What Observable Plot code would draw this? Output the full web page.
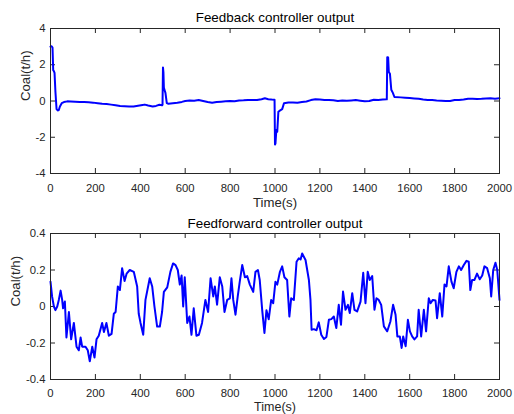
<!DOCTYPE html>
<html>
<head>
<meta charset="utf-8">
<script src="https://cdn.jsdelivr.net/npm/d3@7"></script>
<script src="https://cdn.jsdelivr.net/npm/@observablehq/plot@0.6"></script>
<style>
  body { margin: 0; background: #fff; }
  #chart svg { display: block; }
</style>
</head>
<body>
<div id="chart"></div>
<script>
// ---------- data ----------
const fbTitle = "Feedback controller output";
const ffTitle = "Feedforward controller output";
const xLabel = "Time(s)";
const yLabel = "Coal(t/h)";

const xTicks = [0, 200, 400, 600, 800, 1000, 1200, 1400, 1600, 1800, 2000];
const fbYTicks = [-4, -2, 0, 2, 4];
const ffYTicks = [-0.4, -0.2, 0, 0.2, 0.4];

const fbTime = [0,5,9,12,15,18,22,27,32,37,42,50,60,75,90,110,130,150,170,190,210,230,250,270,290,310,330,350,370,390,410,420,435,455,470,485,497,499,501,503,505,508,512,518,525,545,565,585,600,620,640,660,680,700,720,740,760,780,800,820,840,860,880,900,920,940,955,970,985,998,1000,1002,1006,1010,1015,1025,1032,1040,1060,1080,1100,1120,1140,1160,1180,1200,1220,1240,1260,1280,1300,1320,1340,1360,1380,1400,1420,1440,1460,1480,1498,1500,1504,1507,1512,1518,1525,1532,1560,1580,1600,1620,1640,1660,1680,1700,1720,1740,1760,1780,1800,1820,1840,1860,1880,1900,1920,1940,1960,1980,2000];
const fbValue = [3.0,3.02,2.95,1.7,1.65,1.55,0.5,-0.45,-0.52,-0.5,-0.3,-0.12,-0.06,-0.02,-0.03,-0.04,-0.05,-0.06,-0.07,-0.09,-0.12,-0.15,-0.17,-0.2,-0.24,-0.28,-0.29,-0.3,-0.3,-0.26,-0.22,-0.2,-0.25,-0.3,-0.27,-0.21,-0.24,-0.2,1.85,1.6,0.75,0.6,0.45,-0.12,-0.15,-0.12,-0.1,-0.05,0.0,0.03,0.02,0.06,0.0,-0.06,-0.1,-0.06,-0.04,-0.02,0.0,-0.01,0.03,0.04,0.06,0.06,0.05,0.1,0.15,0.1,0.08,0.07,-2.4,-2.35,-1.6,-1.7,-0.6,-0.5,-0.45,-0.12,-0.08,-0.08,-0.1,-0.06,-0.03,0.05,0.1,0.08,0.06,0.05,0.04,0.0,0.03,0.01,0.03,0.05,0.02,-0.02,0.0,0.07,0.06,0.08,0.09,2.42,2.4,1.6,1.5,0.62,0.45,0.22,0.2,0.18,0.16,0.14,0.12,0.08,0.06,0.05,0.03,0.02,0.0,0.0,0.05,0.06,0.08,0.12,0.12,0.11,0.12,0.14,0.15,0.13,0.15];

const ffTime = [0,7,15,22,30,37,45,52,56,64,71,82,92,104,116,126,134,141,156,166,175,186,196,205,215,230,238,249,260,272,282,290,300,309,319,330,339,353,371,386,393,401,413,423,442,453,463,475,487,497,505,520,534,546,557,567,576,584,591,598,609,619,628,638,650,661,675,690,702,713,725,732,742,754,765,775,787,799,806,814,824,834,843,854,866,876,888,903,913,924,932,943,953,962,972,983,992,1002,1010,1022,1032,1042,1054,1064,1072,1084,1096,1106,1114,1121,1136,1151,1158,1163,1173,1185,1195,1206,1218,1229,1240,1251,1262,1273,1284,1294,1303,1314,1325,1333,1344,1354,1366,1381,1393,1403,1413,1422,1433,1443,1452,1462,1473,1485,1500,1514,1526,1537,1545,1556,1564,1571,1582,1592,1601,1611,1621,1633,1640,1651,1663,1673,1685,1693,1703,1715,1722,1734,1745,1755,1764,1774,1786,1796,1808,1819,1829,1841,1853,1863,1870,1878,1888,1900,1912,1923,1933,1945,1957,1963,1972,1982,1990,2000];
const ffValue = [0.136,0.055,0.0,-0.02,0.0,0.036,0.087,0.036,-0.01,0.027,-0.17,-0.03,-0.18,-0.09,-0.22,-0.24,-0.17,-0.22,-0.22,-0.24,-0.30,-0.22,-0.28,-0.18,-0.16,-0.09,-0.14,-0.09,-0.16,-0.15,-0.04,-0.03,0.11,0.09,0.21,0.14,0.18,0.2,0.19,0.11,-0.04,-0.09,-0.155,0.036,0.155,0.11,0.0,-0.11,-0.11,-0.03,0.08,0.105,0.19,0.236,0.227,0.2,0.12,0.17,0.0,0.16,-0.09,-0.055,-0.155,-0.01,-0.16,-0.155,-0.09,0.036,-0.03,0.155,0.055,0.11,0.01,0.16,0.11,-0.03,0.036,0.045,0.155,0.036,-0.045,0.055,0.136,0.227,0.16,0.167,0.12,0.08,0.19,0.2,0.145,-0.02,-0.145,-0.02,-0.07,0.036,0.018,0.136,0.12,0.19,0.22,0.16,0.145,-0.055,0.045,0.036,0.245,0.264,0.258,0.29,0.255,0.145,0.036,-0.127,-0.124,-0.13,-0.087,-0.155,-0.178,-0.167,-0.073,-0.069,-0.055,-0.118,0.009,-0.1,0.082,-0.018,0.009,-0.036,0.073,-0.018,-0.027,0.027,0.185,0.018,0.19,0.145,0.167,-0.018,0.045,0.036,0.009,-0.109,-0.136,-0.082,0.009,-0.045,-0.164,-0.164,-0.227,-0.164,-0.218,-0.073,-0.136,-0.164,-0.18,-0.164,-0.018,-0.164,-0.018,-0.136,0.045,0.018,0.036,0.033,-0.064,0.073,-0.055,0.12,0.11,0.22,0.136,0.1,0.19,0.22,0.2,0.227,0.25,0.245,0.09,0.145,0.145,0.18,0.149,0.17,0.22,0.21,0.155,0.055,0.2,0.24,0.2,0.036];

// ---------- drawing ----------
const FONT = "'Liberation Sans', Arial, Helvetica, sans-serif";
const W = 514, ML = 50, MR = 15;
const FW = W - ML - MR;
const tickCol = "#262626";
const tickLen = 5;
const tickFont = 11.3;

function panel({time, value, yTicks, yDomain, title, height, marginTop, marginBottom, yLabelDx, titleDy, xLabelDy, xLabelSize, xTickPad}) {
  const FH = height - marginTop - marginBottom;
  const data = time.map((t, i) => ({t, v: value[i]}));
  return Plot.plot({
    width: W, height,
    marginLeft: ML, marginRight: MR, marginTop, marginBottom,
    style: {fontFamily: FONT, fontSize: tickFont + "px", color: tickCol, background: "white", overflow: "visible"},
    x: {domain: [0, 2000]},
    y: {domain: yDomain},
    marks: [
      Plot.axisX({ticks: xTicks, tickSize: 0, tickPadding: xTickPad, label: null, tickFormat: d => String(d), fill: tickCol, fontSize: tickFont}),
      Plot.axisY({ticks: yTicks, tickSize: 0, tickPadding: 5, label: null, tickFormat: d => String(d), fill: tickCol, fontSize: tickFont}),
      Plot.tickX(xTicks, {x: d => d, insetTop: FH - tickLen, stroke: tickCol}),
      Plot.tickX(xTicks, {x: d => d, insetBottom: FH - tickLen, stroke: tickCol}),
      Plot.tickY(yTicks, {y: d => d, insetRight: FW - tickLen, stroke: tickCol}),
      Plot.tickY(yTicks, {y: d => d, insetLeft: FW - tickLen, stroke: tickCol}),
      Plot.line(data, {x: "t", y: "v", stroke: "#0000ff", strokeWidth: 2, strokeLinejoin: "round"}),
      Plot.frame({stroke: tickCol, strokeWidth: 1}),
      Plot.text([title], {text: d => d, frameAnchor: "top", dy: titleDy, lineAnchor: "middle", fontSize: 13.4, fill: "black"}),
      Plot.text([xLabel], {text: d => d, frameAnchor: "bottom", dy: xLabelDy, lineAnchor: "middle", fontSize: xLabelSize, fill: tickCol}),
      Plot.text([yLabel], {text: d => d, frameAnchor: "left", dx: yLabelDx, rotate: -90, lineAnchor: "middle", fontSize: 13.2, fill: tickCol})
    ]
  });
}

const chart = document.getElementById("chart");
chart.append(panel({
  time: fbTime, value: fbValue, yTicks: fbYTicks, yDomain: [-4, 4],
  title: fbTitle, height: 210, marginTop: 28, marginBottom: 37, yLabelDx: -25, titleDy: -11,
  xLabelDy: 29, xLabelSize: 13.2, xTickPad: 10
}));
chart.append(panel({
  time: ffTime, value: ffValue, yTicks: ffYTicks, yDomain: [-0.4, 0.4],
  title: ffTitle, height: 204, marginTop: 23, marginBottom: 35, yLabelDx: -35, titleDy: -10,
  xLabelDy: 27.5, xLabelSize: 12.5, xTickPad: 9
}));
</script>
</body>
</html>
